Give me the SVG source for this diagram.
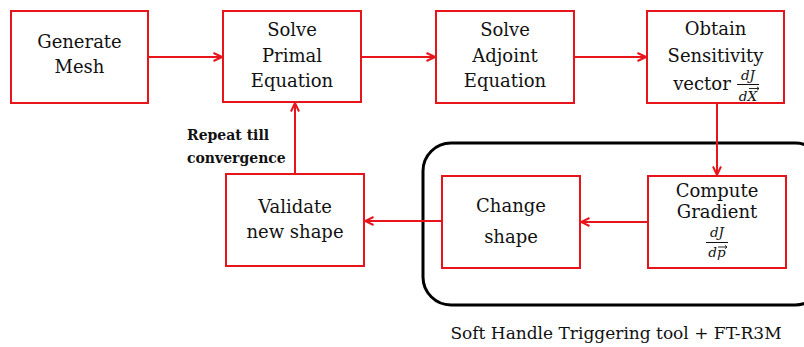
<svg xmlns="http://www.w3.org/2000/svg" width="804" height="347" viewBox="0 0 804 347">
<defs>
<style>
.box{fill:#fff;stroke:#e8141c;stroke-width:2}
.t{font-family:"DejaVu Serif","Liberation Serif",serif;font-size:18px;fill:#111;text-anchor:middle}
.fr{font-family:"DejaVu Serif","Liberation Serif",serif;font-size:13.5px;font-style:italic;fill:#111;text-anchor:middle}
.c{fill:none;stroke:#e8141c;stroke-width:2}
.lbl{font-family:"DejaVu Serif","Liberation Serif",serif;font-weight:bold;font-size:14px;fill:#111}
.va{fill:none;stroke:#111;stroke-width:0.9}
</style>
<marker id="ah" viewBox="0 0 10 10" refX="9.5" refY="5" markerWidth="10" markerHeight="10" markerUnits="userSpaceOnUse" orient="auto">
<path d="M1,1 L9.5,5 L1,9" fill="none" stroke="#e8141c" stroke-width="2"/>
</marker>
</defs>
<rect width="804" height="347" fill="#fff"/>
<g id="group-box">
<rect x="423" y="143" width="400" height="162" rx="28" fill="none" stroke="#000" stroke-width="3"/>
</g>
<g id="connectors">
<line class="c" x1="148" y1="57" x2="222" y2="57" marker-end="url(#ah)"/>
<line class="c" x1="361" y1="57" x2="435" y2="57" marker-end="url(#ah)"/>
<line class="c" x1="574" y1="57" x2="646" y2="57" marker-end="url(#ah)"/>
<line class="c" x1="717" y1="103" x2="717" y2="175" marker-end="url(#ah)"/>
<line class="c" x1="648" y1="222" x2="581" y2="222" marker-end="url(#ah)"/>
<line class="c" x1="442" y1="221" x2="365" y2="221" marker-end="url(#ah)"/>
<line class="c" x1="295" y1="174" x2="295" y2="103" marker-end="url(#ah)"/>
</g>
<g id="n1">
<rect class="box" x="11" y="11" width="137" height="92"/>
<text class="t" x="79.5" y="48">Generate</text>
<text class="t" x="79.5" y="73">Mesh</text>
</g>
<g id="n2">
<rect class="box" x="223" y="11" width="138" height="91"/>
<text class="t" x="292" y="36">Solve</text>
<text class="t" x="292" y="62">Primal</text>
<text class="t" x="292" y="87">Equation</text>
</g>
<g id="n3">
<rect class="box" x="436" y="11" width="138" height="92"/>
<text class="t" x="505" y="36">Solve</text>
<text class="t" x="505" y="62">Adjoint</text>
<text class="t" x="505" y="87">Equation</text>
</g>
<g id="n4">
<rect class="box" x="647" y="11" width="137" height="92"/>
<text class="t" x="715.5" y="35">Obtain</text>
<text class="t" x="715.5" y="62">Sensitivity</text>
<text class="t" x="702" y="90">vector</text>
<text class="fr" x="748" y="80">dJ</text>
<line x1="737" y1="84.5" x2="759" y2="84.5" stroke="#111" stroke-width="1"/>
<text class="fr" x="748" y="100.5">dX</text>
<path class="va" d="M749,88.5 L759,88.5 M757,86.8 L759,88.5 L757,90.2"/>
</g>
<g id="n5">
<rect class="box" x="648" y="176" width="138" height="92"/>
<text class="t" x="717" y="197">Compute</text>
<text class="t" x="717" y="218">Gradient</text>
<text class="fr" x="717" y="237">dJ</text>
<line x1="706" y1="242.5" x2="728" y2="242.5" stroke="#111" stroke-width="1"/>
<text class="fr" x="717" y="257">dp</text>
<path class="va" d="M718,247 L727,247 M725,245.3 L727,247 L725,248.7"/>
</g>
<g id="n6">
<rect class="box" x="442" y="176" width="138" height="92"/>
<text class="t" x="511" y="212">Change</text>
<text class="t" x="511" y="243">shape</text>
</g>
<g id="n7">
<rect class="box" x="226" y="174" width="138" height="92"/>
<text class="t" x="295" y="213">Validate</text>
<text class="t" x="295" y="238">new shape</text>
</g>
<text class="lbl" x="187" y="140">Repeat till</text>
<text class="lbl" x="187" y="163">convergence</text>
<text class="t" x="616" y="339" style="font-size:17px">Soft Handle Triggering tool + FT-R3M</text>
</svg>
